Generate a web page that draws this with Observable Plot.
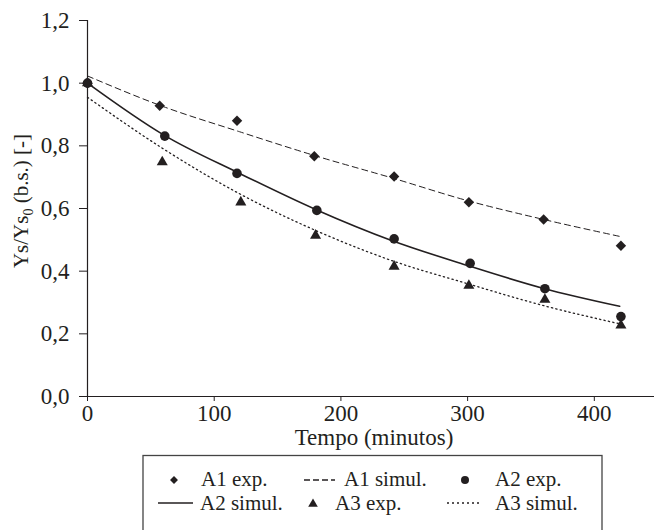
<!DOCTYPE html>
<html>
<head>
<meta charset="utf-8">
<script src="https://cdn.jsdelivr.net/npm/d3@7"></script>
<script src="https://cdn.jsdelivr.net/npm/@observablehq/plot@0.6"></script>
<style>
  html, body { margin: 0; padding: 0; background: #fff; overflow: hidden; }
  #wrap { position: relative; width: 654px; height: 530px; font-family: "Liberation Serif", "Times New Roman", serif; color: #231f20; }
  #chart { position: absolute; left: 0; top: 0; }
  #legend { position: absolute; left: 0; top: 450px; }
</style>
</head>
<body>
<div id="wrap">
  <div id="chart"></div>
  <div id="legend"></div>
</div>
<script>
// ---- data ----
const a1ExpTime = [0, 57, 118, 179, 242, 301, 360, 421];
const a1ExpValue = [1.0, 0.928, 0.88, 0.767, 0.702, 0.62, 0.565, 0.481];
const a2ExpTime = [0, 61, 118, 181, 242, 302, 361, 421];
const a2ExpValue = [1.0, 0.831, 0.712, 0.594, 0.503, 0.425, 0.344, 0.255];
const a3ExpTime = [0, 59, 121, 180, 242, 301, 361, 421];
const a3ExpValue = [1.0, 0.748, 0.62, 0.514, 0.415, 0.354, 0.309, 0.227];

const simTime = [0, 60, 120, 180, 240, 300, 360, 420];
const a1SimValue = [1.023, 0.925, 0.845, 0.768, 0.698, 0.625, 0.565, 0.511];
const a2SimValue = [1.0, 0.835, 0.712, 0.597, 0.498, 0.418, 0.345, 0.288];
const a3SimValue = [0.955, 0.79, 0.647, 0.53, 0.434, 0.36, 0.29, 0.232];

const xTicks = [0, 100, 200, 300, 400];
const yTicks = [0, 0.2, 0.4, 0.6, 0.8, 1.0, 1.2];
const legendLabels = ["A1 exp.", "A1 simul.", "A2 exp.", "A2 simul.", "A3 exp.", "A3 simul."];

// ---- build tables ----
const pts = (xs, ys) => xs.map((x, i) => ({x, y: ys[i]}));
const a1Exp = pts(a1ExpTime, a1ExpValue);
const a2Exp = pts(a2ExpTime, a2ExpValue);
const a3Exp = pts(a3ExpTime, a3ExpValue);
const a1Sim = pts(simTime, a1SimValue);
const a2Sim = pts(simTime, a2SimValue);
const a3Sim = pts(simTime, a3SimValue);

const ink = "#231f20";
const serif = "'Liberation Serif', 'Times New Roman', serif";
const fmt = d => d.toFixed(1).replace(".", ",");

const plot = Plot.plot({
  width: 654,
  height: 450,
  marginLeft: 87,
  marginRight: 0,
  marginTop: 20,
  marginBottom: 54,
  style: {fontFamily: serif, fontSize: "23px", color: ink, background: "transparent"},
  x: {domain: [0, 447.5]},
  y: {domain: [0, 1.2]},
  marks: [
    Plot.axisX({ticks: xTicks, tickSize: 5, tickPadding: 3, label: null, stroke: ink, fill: ink}),
    Plot.axisY({ticks: yTicks, tickSize: 8, tickPadding: 10, tickFormat: fmt, label: null, stroke: ink, fill: ink}),
    Plot.ruleY([0], {stroke: ink, strokeWidth: 1.2}),
    Plot.ruleX([0], {stroke: ink, strokeWidth: 1.2}),
    Plot.line(a1Sim, {x: "x", y: "y", curve: "monotone-x", stroke: ink, strokeWidth: 1, strokeDasharray: "6,4"}),
    Plot.line(a2Sim, {x: "x", y: "y", curve: "monotone-x", stroke: ink, strokeWidth: 1.6}),
    Plot.line(a3Sim, {x: "x", y: "y", curve: "monotone-x", stroke: ink, strokeWidth: 1.3, strokeDasharray: "1.3,3.2"}),
    Plot.dot(a1Exp, {x: "x", y: "y", symbol: "diamond2", r: 4.7, fill: ink, stroke: "none"}),
    Plot.dot(a2Exp, {x: "x", y: "y", symbol: "circle", r: 4.8, fill: ink, stroke: "none"}),
    Plot.dot(a3Exp, {x: "x", y: "y", symbol: "triangle", r: 4.1, fill: ink, stroke: "none"})
  ]
});
document.getElementById("chart").appendChild(plot);

// axis titles
const svg = d3.select(plot);
svg.append("text")
  .attr("x", 374).attr("y", 445)
  .attr("text-anchor", "middle")
  .attr("fill", ink)
  .style("font-family", serif)
  .style("font-size", "23px")
  .text("Tempo (minutos)");
const yl = svg.append("text")
  .attr("transform", "translate(28,201) rotate(-90)")
  .attr("text-anchor", "middle")
  .attr("fill", ink)
  .style("font-family", serif)
  .style("font-size", "21px");
yl.append("tspan").text("Ys/Ys");
yl.append("tspan").attr("dy", 5).style("font-size", "14px").text("0");
yl.append("tspan").attr("dy", -5).text(" (b.s.) [-]");

// legend (layout only)
const lg = d3.select("#legend").append("svg").attr("width", 654).attr("height", 80)
  .style("font-family", serif).style("font-size", "21px");
lg.append("rect").attr("x", 143).attr("y", 5.5).attr("width", 459).attr("height", 90)
  .attr("fill", "none").attr("stroke", "#444").attr("stroke-width", 1.3);
const row1 = 36, row2 = 60;
lg.append("path").attr("d", d3.symbol(d3.symbolDiamond2, 40)).attr("transform", `translate(174,${row1 - 6})`).attr("fill", ink);
lg.append("text").attr("x", 201).attr("y", row1).attr("fill", ink).text(legendLabels[0]);
lg.append("line").attr("x1", 304).attr("x2", 335).attr("y1", row1 - 6).attr("y2", row1 - 6).attr("stroke", ink).attr("stroke-width", 1.5).attr("stroke-dasharray", "6,3");
lg.append("text").attr("x", 344).attr("y", row1).attr("fill", ink).text(legendLabels[1]);
lg.append("circle").attr("cx", 465).attr("cy", row1 - 6).attr("r", 4).attr("fill", ink);
lg.append("text").attr("x", 495).attr("y", row1).attr("fill", ink).text(legendLabels[2]);
lg.append("line").attr("x1", 158).attr("x2", 193).attr("y1", row2 - 7).attr("y2", row2 - 7).attr("stroke", ink).attr("stroke-width", 1.5);
lg.append("text").attr("x", 200).attr("y", row2).attr("fill", ink).text(legendLabels[3]);
lg.append("path").attr("d", d3.symbol(d3.symbolTriangle, 40)).attr("transform", `translate(313,${row2 - 6})`).attr("fill", ink);
lg.append("text").attr("x", 335).attr("y", row2).attr("fill", ink).text(legendLabels[4]);
lg.append("line").attr("x1", 447).attr("x2", 482).attr("y1", row2 - 7).attr("y2", row2 - 7).attr("stroke", ink).attr("stroke-width", 1.5).attr("stroke-dasharray", "2,3");
lg.append("text").attr("x", 495).attr("y", row2).attr("fill", ink).text(legendLabels[5]);
</script>
</body>
</html>
